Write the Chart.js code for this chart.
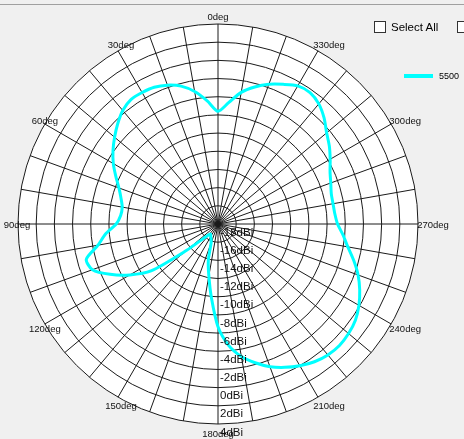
<!DOCTYPE html>
<html>
<head>
<meta charset="utf-8">
<script src="https://cdn.jsdelivr.net/npm/chart.js@4"></script>
<style>
html,body{margin:0;padding:0;background:#f0f0f0;width:464px;height:439px;overflow:hidden;font-family:"Liberation Sans",Arial,sans-serif;}
#wrap{position:relative;width:464px;height:439px;overflow:hidden;}
#c{position:absolute;left:0;top:0;}
#topline{position:absolute;left:0;top:4px;width:464px;height:1px;background:#a0a0a0;}
.cb{position:absolute;width:12px;height:12px;border:1px solid #333;background:#fff;box-sizing:border-box;}
#selAll{position:absolute;left:391px;top:19px;font-size:11.5px;color:#000;line-height:16px;white-space:nowrap;}
#legLine{position:absolute;left:404px;top:74px;width:29px;height:4px;background:#00ffff;}
#legText{position:absolute;left:439px;top:70px;font-size:9px;line-height:12px;color:#000;}
</style>
</head>
<body>
<div id="wrap">
  <canvas id="c" width="464" height="439"></canvas>
  <div id="topline"></div>
  <div class="cb" style="left:374px;top:21px;"></div>
  <div id="selAll">Select All</div>
  <div class="cb" style="left:457px;top:21px;"></div>
  <div id="legLine"></div>
  <div id="legText">5500</div>
</div>
<script>
// Angles measured counter-clockwise from the top (deg)
const angleDeg = [0,5,10,15,20,25,30,35,40,45,50,55,60,65,70,75,80,85,90,95,100,105,110,115,120,125,130,135,140,145,150,155,160,165,170,175,180,185,190,195,200,205,210,215,220,225,230,235,240,245,250,255,260,265,270,275,280,285,290,295,300,305,310,315,320,325,330,335,340,345,350,355];
// Gain of series "5500" (dBi) at each angle
const gainDbi = [-5.6,-4.4,-3.2,-2.3,-1.75,-1.4,-1.3,-1.3,-1.7,-2.4,-3.15,-3.9,-4.7,-5.6,-6.4,-6.95,-7.3,-7.25,-6.8,-5.6,-4.6,-3.0,-3.3,-4.9,-6.8,-9.0,-13.5,-15.8,-16.5,-16.6,-16.4,-16.2,-15.8,-13.9,-12.2,-9.8,-6.7,-4.6,-3.2,-2.2,-1.3,-0.6,0.0,0.5,0.8,0.9,0.75,0.45,-0.1,-0.8,-1.6,-2.55,-3.5,-4.2,-4.85,-5.1,-5.15,-5.1,-4.8,-4.4,-3.75,-3.05,-2.4,-1.5,-0.75,-0.35,-0.45,-1.05,-1.65,-2.4,-3.3,-4.6];
const seriesName = '5500';
const angleLabelDeg = [0,30,60,90,120,150,180,210,240,270,300,330];
const radialTicks = [-18,-16,-14,-12,-10,-8,-6,-4,-2,0,2,4];

// Radar charts run clockwise from the top: reorder so angles run counter-clockwise
const cwAngles = angleDeg.map((_, i) => (360 - i * 5) % 360);
const radarLabels = cwAngles.map(a => a + 'deg');
const radarData = cwAngles.map(a => gainDbi[angleDeg.indexOf(a)]);
const idxOfAngle = a => cwAngles.indexOf(a % 360);

const labelPlugin = {
  id: 'polarLabels',
  afterDraw(chart) {
    const ctx = chart.ctx;
    const scale = chart.scales.r;
    ctx.save();
    ctx.fillStyle = '#f0f0f0';
    ctx.fillRect(0, 427, chart.width, chart.height - 427);
    // radial value labels along the 180deg line
    const i180 = idxOfAngle(180);
    ctx.font = '11.5px "Liberation Sans", Arial, sans-serif';
    ctx.fillStyle = '#111';
    ctx.textAlign = 'left';
    ctx.textBaseline = 'middle';
    radialTicks.forEach(v => {
      const p = scale.getPointPosition(i180, scale.getDistanceFromCenterForValue(v));
      ctx.fillText(v + 'dBi', p.x + 2, p.y + 8.5);
    });
    // angle labels
    ctx.font = '9.5px "Liberation Sans", Arial, sans-serif';
    ctx.textAlign = 'center';
    angleLabelDeg.forEach(a => {
      const p = scale.getPointPosition(idxOfAngle(a), scale.drawingArea);
      const t = a * Math.PI / 180, s = Math.sin(t), c = Math.cos(t);
      const dx = 7 * Math.min(1, 3 * Math.abs(s)) - 8 * s;
      const dy = 1.5 - 8.5 * c;
      ctx.fillText(a + 'deg', p.x + dx, p.y + dy);
    });
    ctx.restore();
  }
};

new Chart(document.getElementById('c'), {
  type: 'radar',
  data: {
    labels: radarLabels,
    datasets: [{
      label: seriesName,
      data: radarData,
      borderColor: '#00ffff',
      backgroundColor: 'rgba(0,0,0,0)',
      borderWidth: 3,
      fill: false,
      pointRadius: 0,
      pointHoverRadius: 0,
      tension: 0.25
    }]
  },
  options: {
    responsive: false,
    animation: false,
    layout: { padding: { left: 18, top: 24, right: 46, bottom: 15 } },
    plugins: { legend: { display: false }, tooltip: { enabled: false } },
    scales: {
      r: {
        min: -18,
        max: 4,
        backgroundColor: '#ffffff',
        ticks: { display: false, stepSize: 2 },
        pointLabels: { display: false },
        grid: { circular: true, color: '#1a1a1a', lineWidth: 1 },
        angleLines: {
          display: true,
          lineWidth: 1,
          color: ctx => (cwAngles[ctx.index] % 10 === 0 ? '#1a1a1a' : 'rgba(0,0,0,0)')
        }
      }
    }
  },
  plugins: [labelPlugin]
});
</script>
</body>
</html>
